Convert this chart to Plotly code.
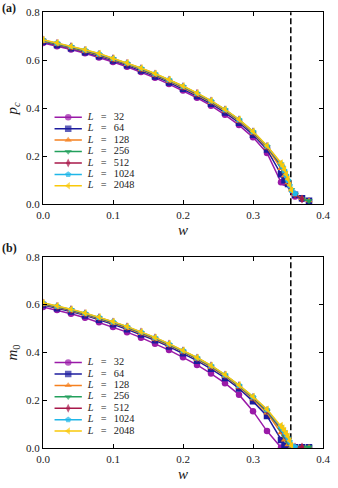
import plotly.graph_objects as go

# ---------------- data ----------------
W_GRID = [0.00, 0.02, 0.04, 0.06, 0.08, 0.10, 0.12, 0.14, 0.16, 0.18,
          0.20, 0.22, 0.24, 0.26, 0.28, 0.30, 0.32, 0.34]
W_C = 0.354
L_LABELS = ["32", "64", "128", "256", "512", "1024", "2048"]
COLORS = ["#9a1aa8", "#1c1c9e", "#f5801f", "#23a05c", "#a8184a", "#1fb6e8", "#f9c80a"]
SYMBOLS = ["circle", "square", "triangle-up", "triangle-down", "diamond-tall",
           "pentagon", "triangle-left"]

# panel (a): p_c
PC_32 = [0.672, 0.659, 0.645, 0.629, 0.612, 0.593, 0.573, 0.551, 0.527, 0.501,
         0.474, 0.444, 0.411, 0.373, 0.330, 0.279, 0.214, 0.092]
PC_64 = [0.677, 0.664, 0.650, 0.634, 0.617, 0.599, 0.579, 0.557, 0.533, 0.508,
         0.481, 0.451, 0.419, 0.382, 0.340, 0.290, 0.228, 0.125]
PC_128 = [0.680, 0.667, 0.653, 0.638, 0.621, 0.603, 0.583, 0.561, 0.538, 0.513,
          0.486, 0.457, 0.425, 0.389, 0.347, 0.297, 0.236, 0.150]
PC_256 = [0.682, 0.669, 0.655, 0.640, 0.623, 0.605, 0.585, 0.564, 0.541, 0.516,
          0.489, 0.460, 0.428, 0.392, 0.350, 0.300, 0.240, 0.160]
PC_512 = [0.684, 0.671, 0.657, 0.642, 0.625, 0.607, 0.587, 0.566, 0.543, 0.518,
          0.491, 0.462, 0.430, 0.394, 0.352, 0.302, 0.242, 0.165]
PC_1024 = [0.685, 0.672, 0.658, 0.643, 0.627, 0.608, 0.589, 0.567, 0.544, 0.519,
           0.492, 0.463, 0.431, 0.395, 0.353, 0.303, 0.243, 0.169]
PC_2048 = [0.686, 0.673, 0.659, 0.644, 0.628, 0.609, 0.590, 0.568, 0.545, 0.520,
           0.493, 0.464, 0.432, 0.396, 0.354, 0.304, 0.244, 0.172]

PC_TAIL_W_32 = [0.345, 0.36, 0.37, 0.38]
PC_TAIL_32 = [0.090, 0.032, 0.022, 0.014]
PC_TAIL_W_64 = [0.345, 0.35, 0.36, 0.37, 0.38]
PC_TAIL_64 = [0.100, 0.085, 0.040, 0.025, 0.015]
PC_TAIL_W_128 = [0.345, 0.35, 0.355, 0.36, 0.37, 0.38]
PC_TAIL_128 = [0.120, 0.090, 0.060, 0.040, 0.025, 0.015]
PC_TAIL_W_256 = [0.345, 0.35, 0.355, 0.36, 0.37, 0.38]
PC_TAIL_256 = [0.130, 0.095, 0.060, 0.040, 0.022, 0.014]
PC_TAIL_W_512 = [0.3425, 0.345, 0.3475, 0.35, 0.3525, 0.355, 0.36, 0.37]
PC_TAIL_512 = [0.150, 0.135, 0.115, 0.095, 0.075, 0.055, 0.040, 0.022]
PC_TAIL_W_1024 = [0.3425, 0.345, 0.3475, 0.35, 0.3525, 0.355, 0.36]
PC_TAIL_1024 = [0.155, 0.140, 0.120, 0.100, 0.078, 0.058, 0.045]
PC_TAIL_W_2048 = [0.3425, 0.345, 0.3475, 0.35, 0.3525, 0.355]
PC_TAIL_2048 = [0.160, 0.145, 0.125, 0.105, 0.080, 0.060]

# panel (b): m_0
M0_32 = [0.590, 0.577, 0.562, 0.545, 0.526, 0.506, 0.485, 0.462, 0.437, 0.410,
         0.380, 0.348, 0.312, 0.272, 0.224, 0.155, 0.072, 0.003]
M0_64 = [0.598, 0.585, 0.571, 0.555, 0.537, 0.518, 0.497, 0.475, 0.451, 0.425,
         0.397, 0.366, 0.332, 0.294, 0.250, 0.196, 0.135, 0.035]
M0_128 = [0.602, 0.589, 0.575, 0.559, 0.542, 0.523, 0.502, 0.480, 0.456, 0.430,
          0.403, 0.372, 0.339, 0.301, 0.257, 0.206, 0.148, 0.065]
M0_256 = [0.604, 0.591, 0.577, 0.561, 0.544, 0.525, 0.505, 0.483, 0.459, 0.433,
          0.405, 0.375, 0.342, 0.304, 0.260, 0.210, 0.154, 0.078]
M0_512 = [0.606, 0.593, 0.579, 0.563, 0.546, 0.527, 0.507, 0.485, 0.461, 0.435,
          0.407, 0.377, 0.344, 0.306, 0.262, 0.213, 0.158, 0.085]
M0_1024 = [0.607, 0.594, 0.580, 0.564, 0.547, 0.528, 0.508, 0.486, 0.462, 0.436,
           0.408, 0.378, 0.345, 0.307, 0.263, 0.215, 0.161, 0.090]
M0_2048 = [0.608, 0.595, 0.581, 0.565, 0.548, 0.529, 0.509, 0.487, 0.463, 0.437,
           0.409, 0.379, 0.346, 0.308, 0.264, 0.216, 0.163, 0.095]

M0_TAIL_W_32 = [0.36, 0.37, 0.38]
M0_TAIL_32 = [0.003, 0.003, 0.003]
M0_TAIL_W_64 = [0.345, 0.35, 0.36, 0.37, 0.38]
M0_TAIL_64 = [0.012, 0.005, 0.004, 0.004, 0.004]
M0_TAIL_W_128 = [0.345, 0.35, 0.355, 0.36, 0.37, 0.38]
M0_TAIL_128 = [0.035, 0.015, 0.006, 0.004, 0.004, 0.004]
M0_TAIL_W_256 = [0.345, 0.35, 0.355, 0.36, 0.37, 0.38]
M0_TAIL_256 = [0.050, 0.025, 0.008, 0.005, 0.005, 0.005]
M0_TAIL_W_512 = [0.3425, 0.345, 0.3475, 0.35, 0.3525, 0.355, 0.36, 0.37]
M0_TAIL_512 = [0.073, 0.060, 0.048, 0.035, 0.022, 0.010, 0.005, 0.005]
M0_TAIL_W_1024 = [0.3425, 0.345, 0.3475, 0.35, 0.3525, 0.355, 0.36]
M0_TAIL_1024 = [0.079, 0.068, 0.056, 0.043, 0.028, 0.013, 0.005]
M0_TAIL_W_2048 = [0.3425, 0.345, 0.3475, 0.35, 0.3525, 0.355]
M0_TAIL_2048 = [0.085, 0.074, 0.062, 0.050, 0.032, 0.012]

PC_SERIES = [(PC_32, PC_TAIL_W_32, PC_TAIL_32), (PC_64, PC_TAIL_W_64, PC_TAIL_64),
             (PC_128, PC_TAIL_W_128, PC_TAIL_128), (PC_256, PC_TAIL_W_256, PC_TAIL_256),
             (PC_512, PC_TAIL_W_512, PC_TAIL_512), (PC_1024, PC_TAIL_W_1024, PC_TAIL_1024),
             (PC_2048, PC_TAIL_W_2048, PC_TAIL_2048)]
M0_SERIES = [(M0_32, M0_TAIL_W_32, M0_TAIL_32), (M0_64, M0_TAIL_W_64, M0_TAIL_64),
             (M0_128, M0_TAIL_W_128, M0_TAIL_128), (M0_256, M0_TAIL_W_256, M0_TAIL_256),
             (M0_512, M0_TAIL_W_512, M0_TAIL_512), (M0_1024, M0_TAIL_W_1024, M0_TAIL_1024),
             (M0_2048, M0_TAIL_W_2048, M0_TAIL_2048)]

# ---------------- style / layout ----------------
W, H = 338, 488
FONT = "'Liberation Serif', 'Times New Roman', Times, serif"
TXT = "#1a1a1a"
MARKER_SIZE = 6.5

# compact legend placement (in each panel's own axis units)
LEG_KEY_W = [0.0165, 0.036, 0.0555]
LEG_TEXT_W = 0.064
LEG_TOP = {1: 0.363, 2: 0.358}
LEG_STEP = 0.0477


def fx(p):
    return p / W


def fy(p):
    return 1 - p / H


fig = go.Figure()

for panel, series in ((1, PC_SERIES), (2, M0_SERIES)):
    xa = "x" if panel == 1 else "x2"
    ya = "y" if panel == 1 else "y2"
    for i, (main, tw, tv) in enumerate(series):
        fig.add_trace(go.Scatter(
            x=W_GRID + tw, y=main + tv, xaxis=xa, yaxis=ya,
            mode="lines+markers", showlegend=False,
            line=dict(color=COLORS[i], width=1.5),
            marker=dict(symbol=SYMBOLS[i], size=MARKER_SIZE, color=COLORS[i],
                        line=dict(width=0))))
    # legend keys and labels
    for i, lab in enumerate(L_LABELS):
        yrow = LEG_TOP[panel] - i * LEG_STEP
        fig.add_trace(go.Scatter(
            x=LEG_KEY_W, y=[yrow] * 3, xaxis=xa, yaxis=ya,
            mode="lines+markers", showlegend=False, hoverinfo="skip",
            line=dict(color=COLORS[i], width=1.5),
            marker=dict(symbol=SYMBOLS[i], size=[0, MARKER_SIZE, 0], color=COLORS[i],
                        line=dict(width=0))))
        fig.add_trace(go.Scatter(
            x=[LEG_TEXT_W], y=[yrow], xaxis=xa, yaxis=ya, mode="text",
            text=["<i>L</i>\u2002\u2009=\u2002\u2009" + lab], textposition="middle right",
            textfont=dict(family=FONT, size=10.3, color=TXT),
            cliponaxis=False, showlegend=False, hoverinfo="skip"))

axis_common = dict(
    showgrid=False, zeroline=False, showline=True, automargin=False,
    linecolor="black", linewidth=1, mirror="ticks", ticks="inside",
    ticklen=4, tickwidth=1, tickcolor="black",
    tickfont=dict(family=FONT, size=11, color=TXT), tickformat=".1f",
)
TITLE_FONT = dict(family=FONT, size=15, color=TXT)

xd = [fx(43), fx(323)]
ya_dom = [fy(204.3), fy(12.3)]
yb_dom = [fy(448.3), fy(256.7)]

fig.update_layout(
    template="none",
    width=W, height=H, autosize=False,
    margin=dict(l=0, r=0, t=0, b=0, pad=0),
    paper_bgcolor="white", plot_bgcolor="white",
    font=dict(family=FONT, color=TXT),
    xaxis=dict(axis_common, domain=xd, anchor="y", range=[0, 0.4], dtick=0.1, tick0=0,
               title=dict(text="<i>w</i>", font=TITLE_FONT, standoff=4)),
    yaxis=dict(axis_common, domain=ya_dom, anchor="x", range=[0, 0.8], dtick=0.2, tick0=0,
               title=dict(text="<i>p</i><sub><i>c</i></sub>", font=TITLE_FONT, standoff=4)),
    xaxis2=dict(axis_common, domain=xd, anchor="y2", range=[0, 0.4], dtick=0.1, tick0=0,
                title=dict(text="<i>w</i>", font=TITLE_FONT, standoff=4)),
    yaxis2=dict(axis_common, domain=yb_dom, anchor="x2", range=[0, 0.8], dtick=0.2, tick0=0,
                title=dict(text="<i>m</i><sub>0</sub>", font=TITLE_FONT, standoff=4)),
)

# critical w dashed lines
for xa, ya in (("x", "y"), ("x2", "y2")):
    fig.add_shape(type="line", xref=xa, yref=ya + " domain", x0=W_C, x1=W_C,
                  y0=0, y1=1, layer="below",
                  line=dict(color="black", width=1.5, dash="6px,3px"))

ann = [
    dict(x=0.0, y=fy(8), xref="paper", yref="paper", xanchor="left", yanchor="middle",
         showarrow=False, text="<b>(a)</b>", font=dict(family=FONT, size=12, color=TXT)),
    dict(x=0.0, y=fy(248), xref="paper", yref="paper", xanchor="left", yanchor="middle",
         showarrow=False, text="<b>(b)</b>", font=dict(family=FONT, size=12, color=TXT)),
]
fig.update_layout(annotations=ann)

fig.write_html("out.html", config={"displayModeBar": False},
               post_script="document.body.style.margin='0';")
